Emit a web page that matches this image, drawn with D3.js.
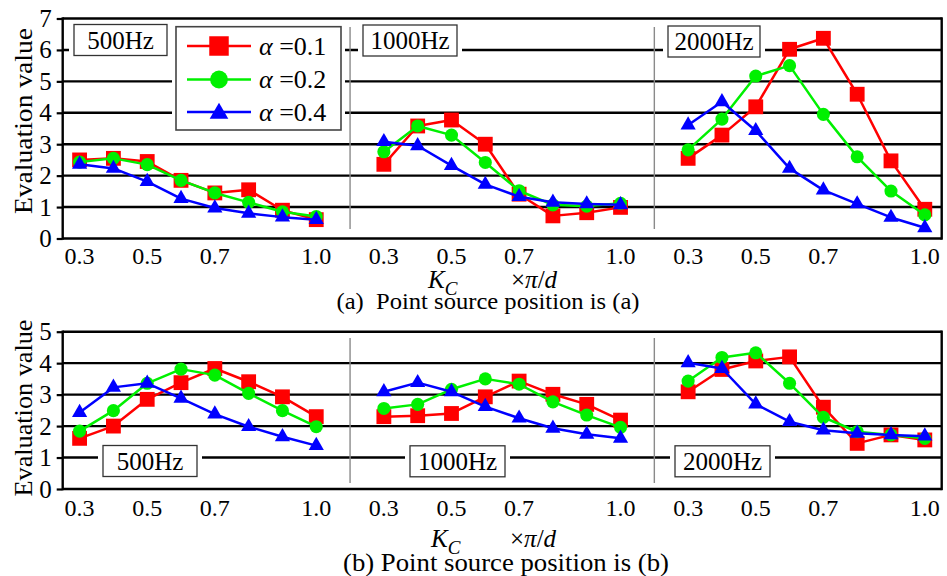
<!DOCTYPE html>
<html>
<head>
<meta charset="utf-8">
<script src="https://cdn.jsdelivr.net/npm/d3@7"></script>
<style>
  html, body { margin: 0; padding: 0; background: #fff; }
  svg { display: block; }
  text { font-family: "Liberation Serif", "Times New Roman", "DejaVu Serif", serif; fill: #000; }
</style>
</head>
<body>
<svg id="chart" width="947" height="576"></svg>
<script>
// ---------------- DATA ----------------
const kValues = ["0.3", "0.4", "0.5", "0.6", "0.7", "0.8", "0.9", "1.0"];
const freqs = ["500Hz", "1000Hz", "2000Hz"];
const alphas = ["0.1", "0.2", "0.4"];
const xTickLabels = ["0.3", "0.5", "0.7", "1.0"];
const yTicksA = [0, 1, 2, 3, 4, 5, 6, 7];
const yTicksB = [0, 1, 2, 3, 4, 5];

// (a) point source position (a): one row per frequency
const posA_alpha01 = [
  [2.50, 2.55, 2.45, 1.85, 1.45, 1.55, 0.90, 0.60],
  [2.36, 3.58, 3.77, 3.00, 1.41, 0.72, 0.82, 0.99],
  [2.55, 3.29, 4.19, 6.02, 6.37, 4.59, 2.47, 0.93]
];
const posA_alpha02 = [
  [2.43, 2.55, 2.35, 1.85, 1.45, 1.15, 0.85, 0.70],
  [2.76, 3.58, 3.29, 2.42, 1.52, 1.07, 1.03, 1.12],
  [2.82, 3.80, 5.17, 5.50, 3.95, 2.60, 1.51, 0.75]
];
const posA_alpha04 = [
  [2.36, 2.23, 1.81, 1.27, 0.97, 0.80, 0.68, 0.60],
  [3.08, 2.95, 2.32, 1.72, 1.33, 1.15, 1.10, 1.07],
  [3.61, 4.35, 3.43, 2.23, 1.54, 1.10, 0.67, 0.34]
];
// (b) point source position (b)
const posB_alpha01 = [
  [1.61, 2.00, 2.85, 3.38, 3.83, 3.41, 2.93, 2.30],
  [2.30, 2.33, 2.40, 2.93, 3.43, 3.01, 2.69, 2.19],
  [3.09, 3.80, 4.07, 4.20, 2.60, 1.45, 1.72, 1.56]
];
const posB_alpha02 = [
  [1.84, 2.49, 3.36, 3.81, 3.62, 3.04, 2.49, 1.98],
  [2.56, 2.69, 3.17, 3.50, 3.33, 2.77, 2.35, 1.96],
  [3.43, 4.18, 4.33, 3.36, 2.28, 1.82, 1.72, 1.61]
];
const posB_alpha04 = [
  [2.43, 3.23, 3.36, 2.88, 2.38, 1.98, 1.66, 1.38],
  [3.09, 3.38, 3.09, 2.62, 2.25, 1.93, 1.74, 1.61],
  [4.01, 3.83, 2.70, 2.14, 1.87, 1.77, 1.72, 1.68]
];

// ---------------- STYLE / LAYOUT ----------------
const colors = ["#ff0000", "#00f000", "#0000ff"];
const symbols = [d3.symbolSquare, d3.symbolCircle, d3.symbolTriangle];
const markerSizes = [220, 135, 100];
const legendMarkerSizes = [380, 250, 150];
const FONT = '"Liberation Serif", "Times New Roman", serif';

const svg = d3.select("#chart");
svg.append("rect").attr("width", 947).attr("height", 576).attr("fill", "#fff");

// shared x band scale: 8 K values per frequency + a gap slot between frequencies
const slots = [];
freqs.forEach((f, fi) => {
  kValues.forEach(k => slots.push(f + "|" + k));
  if (fi < freqs.length - 1) slots.push("gap" + fi);
});
const xLeft = 62.7, xRight = 941.7;
const x = d3.scaleBand().domain(slots).range([xLeft, xRight]).paddingInner(0).paddingOuter(0);
const cx = key => x(key) + x.bandwidth() / 2;

const panels = [
  {
    series: [posA_alpha01, posA_alpha02, posA_alpha04],
    yTicks: yTicksA, yRange: [238.5, 18.5],
    sep: [27, 229],
    tickBase: 263.5,
    boxes: [[74, 24.5], [363, 25], [668, 26]], boxW: [93, 94, 92], boxH: 31,
    title: { cy: 121, len: 186 },
    kLabel: { kx: 428, base: 288, subBase: 295, px: 511 },
    caption: { text: "(a)\u00a0\u00a0Point source position is (a)", x: 336.5, base: 308.5, len: 303, size: 24 },
    legend: true
  },
  {
    series: [posB_alpha01, posB_alpha02, posB_alpha04],
    yTicks: yTicksB, yRange: [489, 331.7],
    sep: [338, 483],
    tickBase: 515.5,
    boxes: [[103, 445.5], [410, 445.8], [675, 445.8]], boxW: [94, 95, 95], boxH: 31,
    title: { cy: 408, len: 177 },
    kLabel: { kx: 431, base: 546.5, subBase: 554, px: 510 },
    caption: { text: "(b) Point source position is (b)", x: 343, base: 571, len: 326, size: 25 },
    legend: false
  }
];

panels.forEach(p => {
  const yMax = d3.max(p.yTicks);
  const y = d3.scaleLinear().domain([0, yMax]).range(p.yRange);
  const g = svg.append("g");

  // grid lines (including top frame line) and bottom axis line
  g.selectAll("line.grid").data(p.yTicks).join("line")
    .attr("x1", xLeft).attr("x2", xRight)
    .attr("y1", d => y(d)).attr("y2", d => y(d))
    .attr("stroke", "#000").attr("stroke-width", 2.4);

  // right frame line
  g.append("line")
    .attr("x1", xRight).attr("x2", xRight)
    .attr("y1", y(yMax) - 1.2).attr("y2", y(0) + 1.2)
    .attr("stroke", "#000").attr("stroke-width", 2.4);

  // separators between frequency groups
  ["gap0", "gap1"].forEach(gk => {
    g.append("line")
      .attr("x1", cx(gk)).attr("x2", cx(gk))
      .attr("y1", p.sep[0]).attr("y2", p.sep[1])
      .attr("stroke", "#8a8a8a").attr("stroke-width", 1.4);
  });

  // y axis
  const yAxis = d3.axisLeft(y).tickValues(p.yTicks).tickSize(6).tickSizeOuter(0).tickPadding(5)
    .tickFormat(d3.format("d"));
  const ga = g.append("g").attr("transform", `translate(${xLeft},0)`).call(yAxis);
  ga.select(".domain").attr("stroke", "#000").attr("stroke-width", 2.4)
    .attr("d", `M0,${y(yMax) - 1.2}V${y(0) + 1.2}`);
  ga.selectAll(".tick line").attr("stroke", "#000").attr("stroke-width", 2.2);
  ga.selectAll(".tick text").attr("font-family", FONT).attr("font-size", 25).attr("fill", "#000");

  // x tick labels (per frequency group)
  freqs.forEach(f => {
    g.selectAll(null).data(xTickLabels).join("text")
      .attr("x", d => cx(f + "|" + d)).attr("y", p.tickBase)
      .attr("text-anchor", "middle").attr("font-size", 24)
      .text(d => d);
  });

  // frequency label boxes (white margin hides grid lines)
  freqs.forEach((f, i) => {
    const [bx, by] = p.boxes[i];
    const bw = p.boxW[i];
    g.append("rect").attr("x", bx - 5).attr("y", by - 4).attr("width", bw + 10).attr("height", p.boxH + 8)
      .attr("fill", "#fff");
    g.append("rect").attr("x", bx).attr("y", by).attr("width", bw).attr("height", p.boxH)
      .attr("fill", "#fff").attr("stroke", "#333").attr("stroke-width", 1.3);
    g.append("text").attr("x", bx + bw / 2).attr("y", by + p.boxH / 2 + 8.5)
      .attr("text-anchor", "middle").attr("font-size", 25).text(f);
  });

  // legend
  if (p.legend) {
    const lx = 176, ly = 26.7, lw = 165, lh = 103.3;
    g.append("rect").attr("x", lx - 4).attr("y", ly - 4).attr("width", lw + 8).attr("height", lh + 8).attr("fill", "#fff");
    g.append("rect").attr("x", lx).attr("y", ly).attr("width", lw).attr("height", lh)
      .attr("fill", "#fff").attr("stroke", "#444").attr("stroke-width", 1.6);
    const rowY = [46, 79.5, 112];
    alphas.forEach((a, i) => {
      g.append("line").attr("x1", 187).attr("x2", 251).attr("y1", rowY[i]).attr("y2", rowY[i])
        .attr("stroke", colors[i]).attr("stroke-width", 2.5);
      g.append("path").attr("d", d3.symbol(symbols[i], legendMarkerSizes[i])())
        .attr("transform", `translate(219,${rowY[i] + (i === 2 ? 1.5 : 0)})`).attr("fill", colors[i]);
      const t = g.append("text").attr("x", 259).attr("y", rowY[i] + 8.5).attr("font-size", 26);
      t.append("tspan").attr("font-style", "italic").text("\u03b1");
      t.append("tspan").text(" =" + a);
    });
  }

  // series
  p.series.forEach((rows, si) => {
    freqs.forEach((f, fi) => {
      const pts = rows[fi].map((v, ki) => ({ key: f + "|" + kValues[ki], v }));
      g.append("path").datum(pts)
        .attr("d", d3.line().x(d => cx(d.key)).y(d => y(d.v)))
        .attr("fill", "none").attr("stroke", colors[si]).attr("stroke-width", 2.5)
        .attr("stroke-linejoin", "round");
      g.selectAll(null).data(pts).join("path")
        .attr("d", d3.symbol(symbols[si], markerSizes[si])())
        .attr("transform", d => `translate(${cx(d.key)},${y(d.v)})`)
        .attr("fill", colors[si]);
    });
  });

  // y axis title
  svg.append("text")
    .attr("transform", `translate(32,${p.title.cy}) rotate(-90)`)
    .attr("text-anchor", "middle").attr("font-size", 26)
    .attr("textLength", p.title.len).attr("lengthAdjust", "spacingAndGlyphs")
    .text("Evaluation value");

  // x axis label  K_C  ×π/d
  const kl = svg.append("text").attr("x", p.kLabel.kx).attr("y", p.kLabel.base).attr("font-size", 25);
  kl.append("tspan").attr("font-style", "italic").text("K");
  kl.append("tspan").attr("font-style", "italic").attr("font-size", 19)
    .attr("y", p.kLabel.subBase).text("C");
  const pl = svg.append("text").attr("x", p.kLabel.px).attr("y", p.kLabel.base).attr("font-size", 25);
  pl.append("tspan").text("\u00d7");
  pl.append("tspan").attr("font-style", "italic").text("\u03c0");
  pl.append("tspan").text("/");
  pl.append("tspan").attr("font-style", "italic").text("d");

  // caption
  svg.append("text").attr("x", p.caption.x).attr("y", p.caption.base)
    .attr("font-size", p.caption.size)
    .attr("textLength", p.caption.len).attr("lengthAdjust", "spacingAndGlyphs")
    .text(p.caption.text);
});
</script>
</body>
</html>
